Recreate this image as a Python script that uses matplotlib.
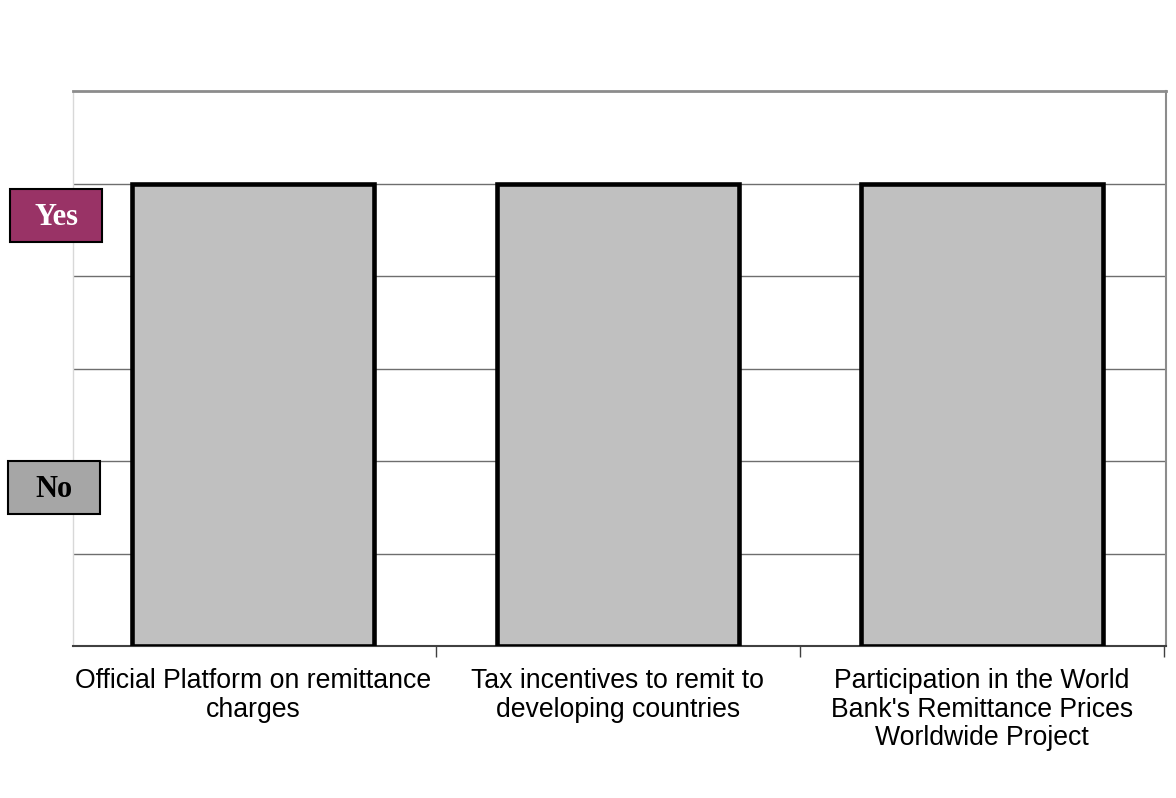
import matplotlib
matplotlib.use("Agg")
import matplotlib.pyplot as plt
from matplotlib.patches import Rectangle

categories = [
    "Official Platform on remittance\ncharges",
    "Tax incentives to remit to\ndeveloping countries",
    "Participation in the World\nBank's Remittance Prices\nWorldwide Project",
]
values = [5, 5, 5]
y_max = 6
yes_level = 4.65
no_level = 1.71

W, H = 1176, 798
fig = plt.figure(figsize=(W / 100, H / 100), dpi=100)
ax = fig.add_axes([73 / W, 1 - 646 / H, (1166 - 73) / W, (646 - 91) / H])

x = list(range(len(categories)))
ax.bar(x, values, width=0.665, color="#c0c0c0", edgecolor="black", linewidth=3.3, zorder=3)

ax.set_xlim(-0.495, len(categories) - 0.495)
ax.set_ylim(0, y_max)

for yv in range(1, y_max):
    ax.axhline(yv, color="#6e6e6e", linewidth=1.0, zorder=1)

ax.set_yticks([])
ax.set_xticks([i + 0.5 for i in range(len(categories))])
ax.set_xticklabels([])
ax.tick_params(axis="x", direction="out", length=8, width=1, color="#404040")

for i, lab in enumerate(categories):
    ax.text(i, -0.235, lab, ha="center", va="top", fontsize=19.2,
            family="Liberation Sans", linespacing=1.14)

ax.spines["left"].set_color("#d8d8d8")
ax.spines["left"].set_linewidth(1)
ax.spines["top"].set_color("#8c8c8c")
ax.spines["top"].set_linewidth(2)
ax.spines["right"].set_color("#8c8c8c")
ax.spines["right"].set_linewidth(1.5)
ax.spines["bottom"].set_color("#404040")
ax.spines["bottom"].set_linewidth(1.5)

# Yes / No marker boxes beside the axis
def level_box(level, width_px, height_px, left_px, face, text, text_color):
    trans = ax.transData
    _, cy = trans.transform((0, level))
    left = left_px / W
    bottom = (cy - height_px / 2) / H
    fig.patches.append(Rectangle((left, bottom), width_px / W, height_px / H,
                                 transform=fig.transFigure, facecolor=face,
                                 edgecolor="black", linewidth=1.5, zorder=5))
    fig.text(left + width_px / W / 2, cy / H - 1.5 / H, text, ha="center", va="center",
             fontsize=22, fontweight="bold", family="Liberation Serif",
             color=text_color, zorder=6)

level_box(yes_level, 92, 53, 10, "#993366", "Yes", "white")
level_box(no_level, 92, 53, 8, "#a6a6a6", "No", "black")

fig.savefig("out.png", dpi=100)
